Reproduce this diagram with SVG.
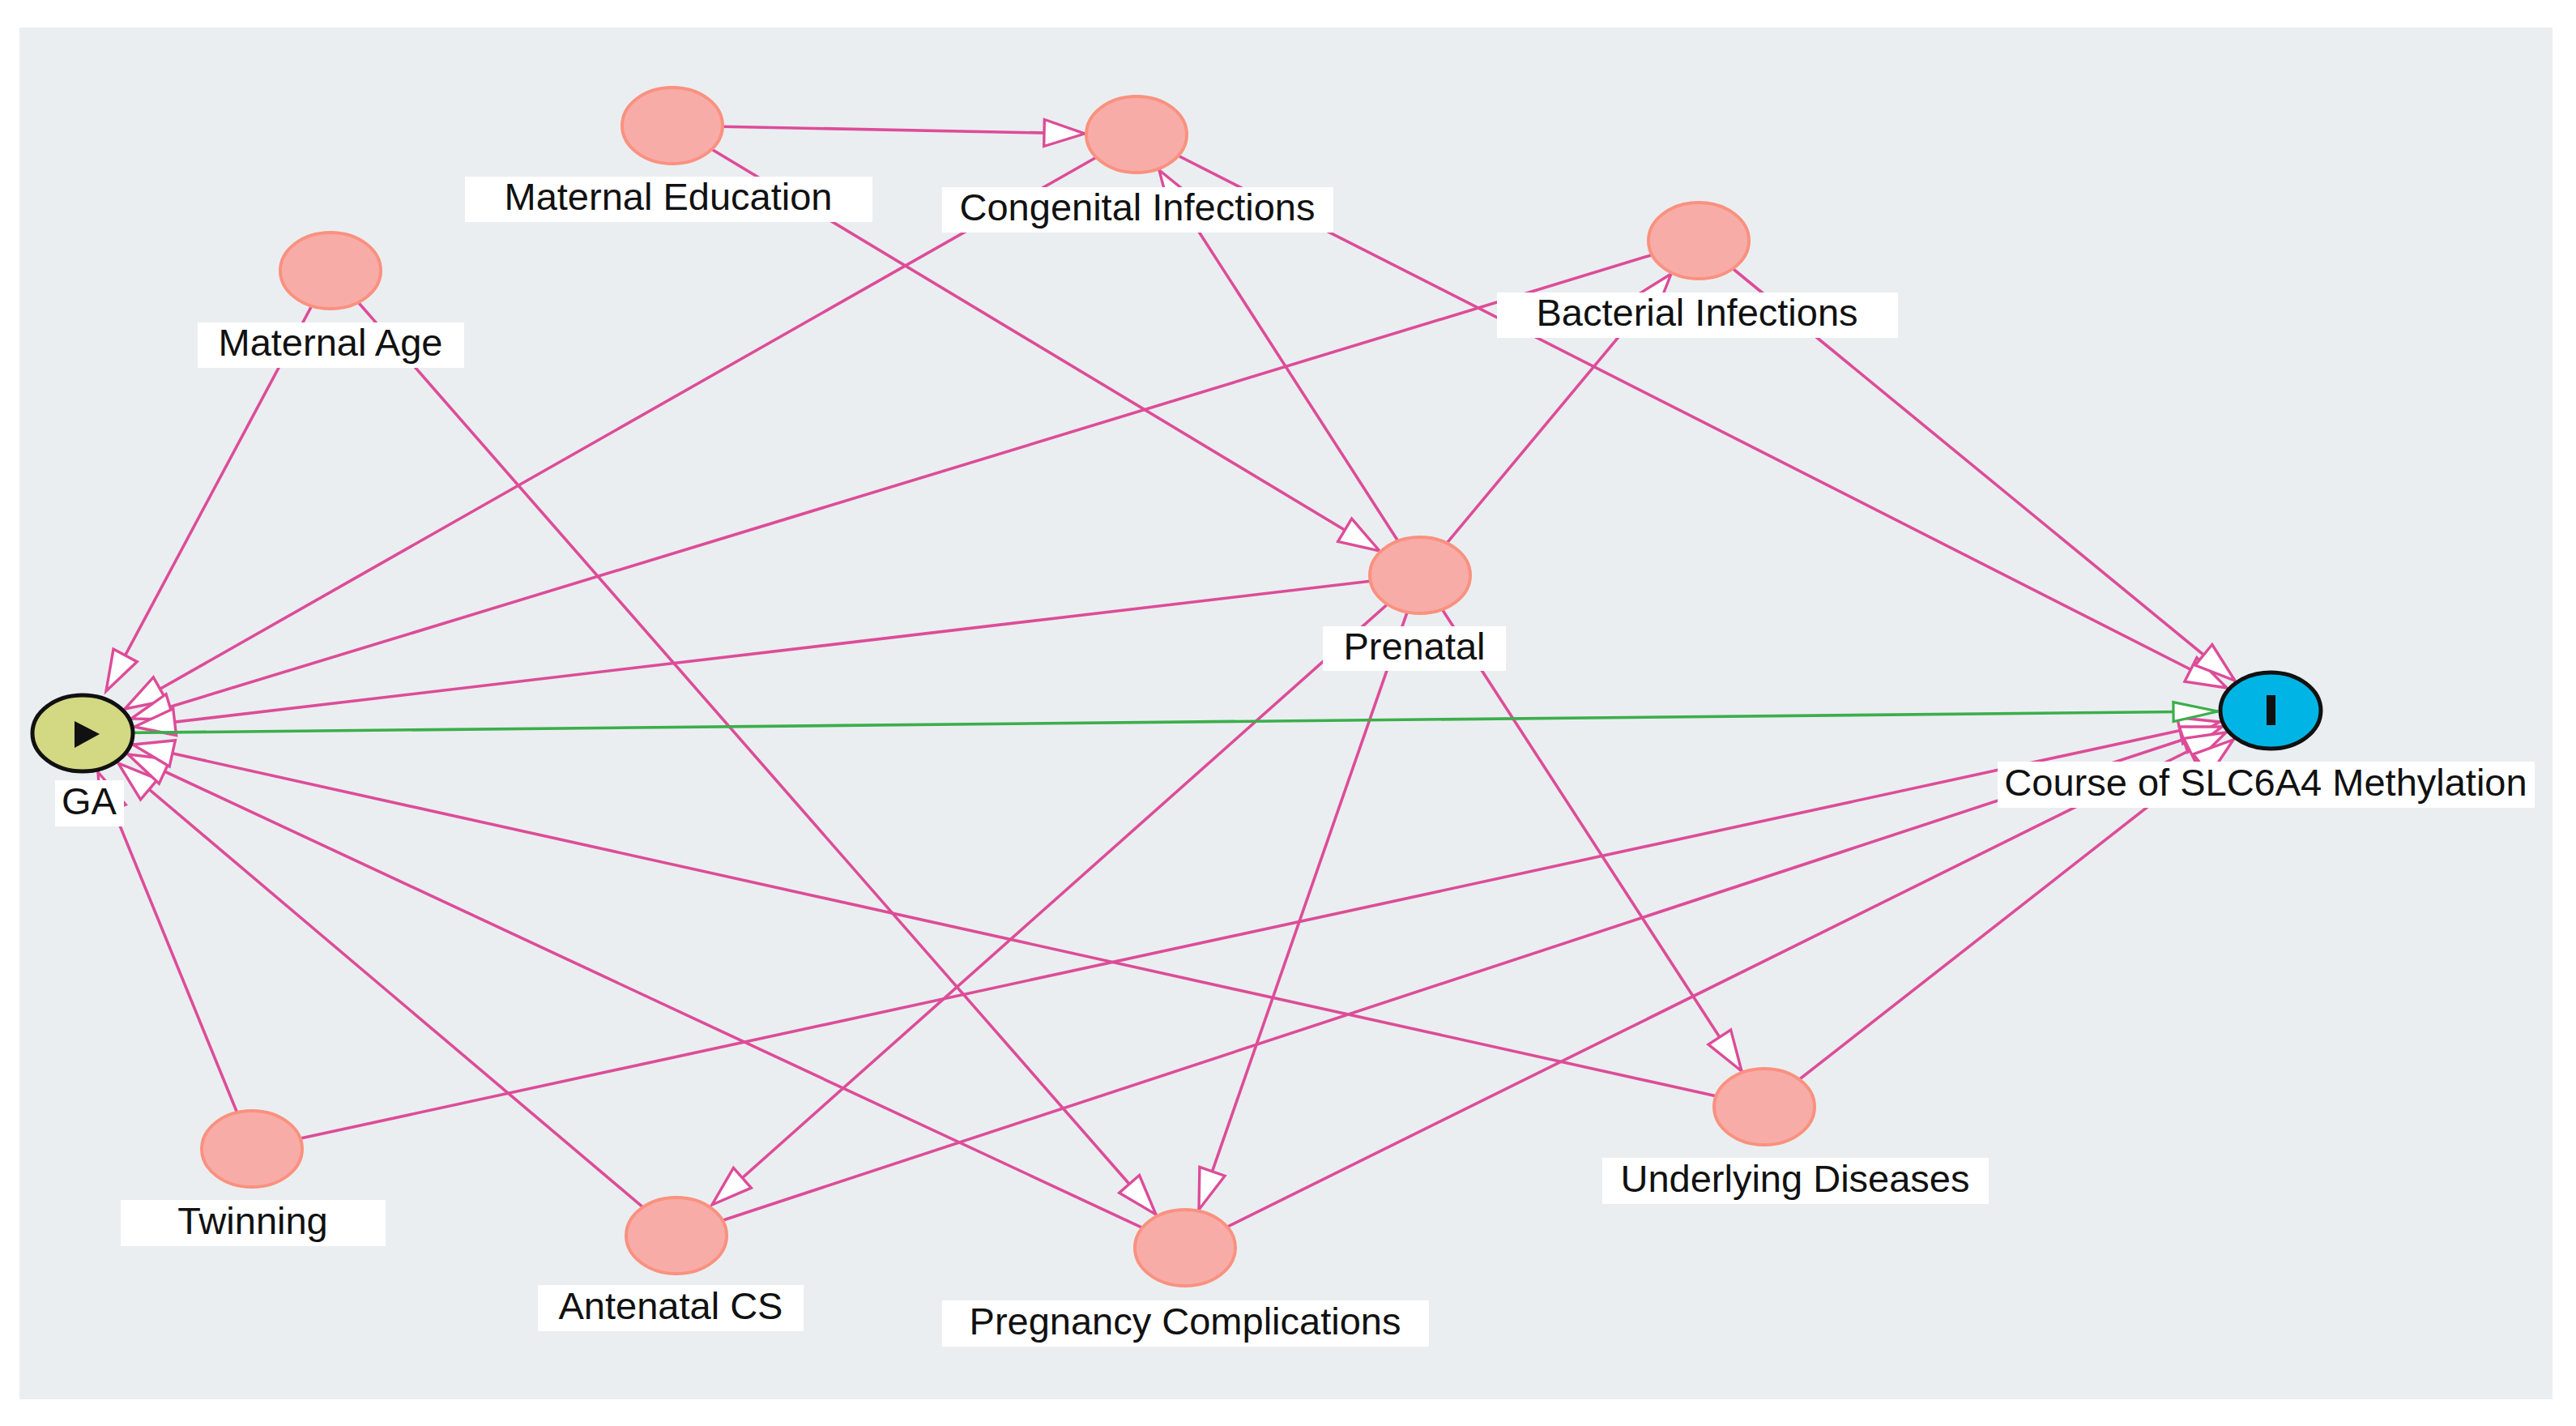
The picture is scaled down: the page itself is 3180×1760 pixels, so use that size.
<svg xmlns="http://www.w3.org/2000/svg" width="3180" height="1760" viewBox="0 0 3180 1760">
<style>
.e{fill:none;stroke:#dd4c98;stroke-width:3.6;marker-end:url(#ap)}
.g{fill:none;stroke:#3cae4a;stroke-width:3.6;marker-end:url(#ag)}
.n{fill:#f8aca8;stroke:#fa917f;stroke-width:4}
.lb{fill:#ffffff}
.t{font-family:"Liberation Sans",Arial,sans-serif;font-size:47px;fill:#111111;text-anchor:middle}
</style>
<defs>
<marker id="ap" markerUnits="userSpaceOnUse" viewBox="-5 -5 62 44" markerWidth="62" markerHeight="44" refX="50" refY="16.5" orient="auto">
<path d="M0,0 L50,16.5 L0,33 Z" fill="#ffffff" stroke="#dd4c98" stroke-width="3.4"/>
</marker>
<marker id="ag" markerUnits="userSpaceOnUse" viewBox="-5 -5 65 34" markerWidth="65" markerHeight="34" refX="55" refY="12" orient="auto">
<path d="M0,0 L55,12 L0,24 Z" fill="#ffffff" stroke="#3cae4a" stroke-width="3.2"/>
</marker>
</defs>
<rect x="0" y="0" width="3180" height="1760" fill="#ffffff"/>
<rect x="24" y="34" width="3127" height="1693" fill="#eaeef1"/>
<g id="connectors">
<path class="e" d="M830,155 L1339,165"/>
<path class="e" d="M830,155 L1703,680"/>
<path class="e" d="M1403,166 L154,875"/>
<path class="e" d="M1753,710 L1431,210"/>
<path class="e" d="M1403,166 L2749,849"/>
<path class="e" d="M2097,297 L162,887"/>
<path class="e" d="M2097,297 L2759,840"/>
<path class="e" d="M1753,710 L166,897"/>
<path class="e" d="M1753,710 L879,1487"/>
<path class="e" d="M1753,710 L1480,1493"/>
<path class="e" d="M1753,710 L2150,1322"/>
<path class="e" d="M1753,710 L2063,338"/>
<path class="e" d="M408,334 L131,853"/>
<path class="e" d="M408,334 L1427,1499"/>
<path class="e" d="M311,1418 L121,953"/>
<path class="e" d="M311,1418 L2740,891"/>
<path class="e" d="M835,1525 L146,942"/>
<path class="e" d="M835,1525 L2743,897"/>
<path class="e" d="M1463,1540 L158,931"/>
<path class="e" d="M1463,1540 L2748,904"/>
<path class="e" d="M2178,1366 L164,919"/>
<path class="e" d="M2178,1366 L2757,913"/>
<path class="g" d="M102,905 L2738,878"/>
</g>
<g id="maternal-education">
<ellipse class="n" cx="830" cy="155" rx="62" ry="47"/>
<rect class="lb" x="574" y="218" width="503" height="56"/>
<text class="t" x="825" y="259">Maternal Education</text>
</g>
<g id="congenital-infections">
<ellipse class="n" cx="1403" cy="166" rx="62" ry="47"/>
<rect class="lb" x="1163" y="231" width="483" height="56"/>
<text class="t" x="1404" y="272">Congenital Infections</text>
</g>
<g id="maternal-age">
<ellipse class="n" cx="408" cy="334" rx="62" ry="47"/>
<rect class="lb" x="244" y="398" width="329" height="56"/>
<text class="t" x="408" y="439">Maternal Age</text>
</g>
<g id="bacterial-infections">
<ellipse class="n" cx="2097" cy="297" rx="62" ry="47"/>
<rect class="lb" x="1848" y="361" width="495" height="56"/>
<text class="t" x="2095" y="402">Bacterial Infections</text>
</g>
<g id="prenatal">
<ellipse class="n" cx="1753" cy="710" rx="62" ry="47"/>
<rect class="lb" x="1633" y="773" width="226" height="55"/>
<text class="t" x="1746" y="814">Prenatal</text>
</g>
<g id="ga">
<ellipse cx="102" cy="905" rx="62" ry="47" fill="#d3d882" stroke="#111111" stroke-width="5"/>
<polygon points="92,890 123,906 92,923" fill="#111111"/>
<rect class="lb" x="68" y="963" width="85" height="57"/>
<text class="t" x="110" y="1005">GA</text>
</g>
<g id="outcome">
<ellipse cx="2803" cy="877" rx="62" ry="47" fill="#00b5e5" stroke="#111111" stroke-width="5"/>
<rect x="2798" y="858" width="11" height="37" fill="#111111"/>
<rect class="lb" x="2466" y="940" width="663" height="57"/>
<text class="t" x="2797" y="982">Course of SLC6A4 Methylation</text>
</g>
<g id="twinning">
<ellipse class="n" cx="311" cy="1418" rx="62" ry="47"/>
<rect class="lb" x="149" y="1481" width="327" height="57"/>
<text class="t" x="312" y="1523">Twinning</text>
</g>
<g id="antenatal-cs">
<ellipse class="n" cx="835" cy="1525" rx="62" ry="47"/>
<rect class="lb" x="664" y="1586" width="328" height="57"/>
<text class="t" x="828" y="1628">Antenatal CS</text>
</g>
<g id="pregnancy-complications">
<ellipse class="n" cx="1463" cy="1540" rx="62" ry="47"/>
<rect class="lb" x="1163" y="1605" width="601" height="57"/>
<text class="t" x="1463" y="1647">Pregnancy Complications</text>
</g>
<g id="underlying-diseases">
<ellipse class="n" cx="2178" cy="1366" rx="62" ry="47"/>
<rect class="lb" x="1978" y="1429" width="477" height="57"/>
<text class="t" x="2216" y="1471">Underlying Diseases</text>
</g>
</svg>
